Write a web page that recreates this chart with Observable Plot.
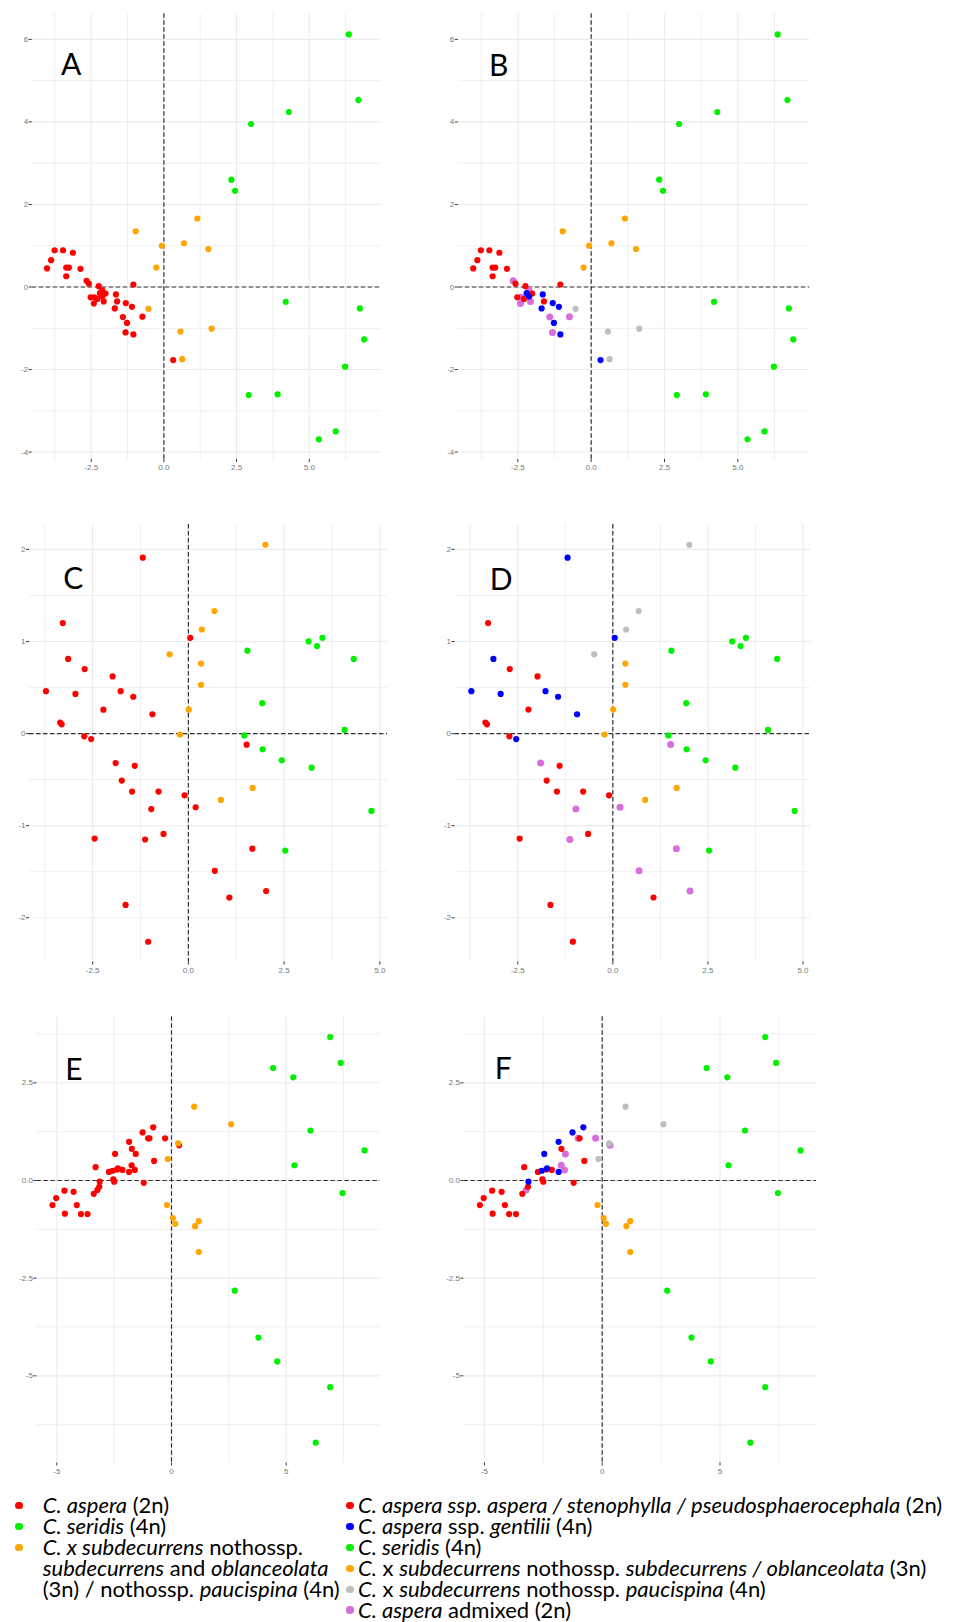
<!DOCTYPE html>
<html><head><meta charset="utf-8">
<script src="https://cdn.jsdelivr.net/npm/d3@7"></script>
<script src="https://cdn.jsdelivr.net/npm/@observablehq/plot@0.6"></script>
<style>
html,body{margin:0;padding:0;background:#fff;}
#page{position:relative;width:977px;height:1622px;overflow:hidden;font-family:Lato,'Open Sans',sans-serif;}
.lrow{position:absolute;white-space:nowrap;color:#000;line-height:20.8px;}
.ldot{position:absolute;width:7.5px;height:7.5px;border-radius:50%;}
</style></head><body><div id="page"></div>
<script>
// ---------- PCA 1 (panels A, B) ----------
const ab_aspera = [[-4.02,0.45],[-3.88,0.65],[-3.76,0.89],[-3.47,0.89],[-3.13,0.83],[-3.36,0.47],[-3.27,0.47],[-3.36,0.26],[-2.87,0.44],[-2.58,0.08],[-2.24,0.02],[-2.52,-0.25],[-2.29,-0.29],[-2.01,-0.16],[-1.61,-0.35],[-1.05,0.06]];
const ab_gentilii = [[-2.20,-0.15],[-2.12,-0.23],[-1.65,-0.18],[-1.69,-0.52],[-1.31,-0.39],[-1.10,-0.48],[-1.27,-0.87],[-1.05,-1.15],[0.32,-1.77]];
const ab_admixed = [[-2.66,0.15],[-2.39,-0.25],[-2.41,-0.40],[-2.12,-0.08],[-2.07,-0.35],[-1.41,-0.73],[-1.32,-1.10],[-0.74,-0.72]];
const ab_seridis = [[6.36,6.12],[6.69,4.53],[4.30,4.24],[3.00,3.95],[2.32,2.60],[2.45,2.33],[4.19,-0.36],[6.74,-0.52],[6.89,-1.27],[6.23,-1.93],[2.92,-2.62],[3.91,-2.60],[5.91,-3.50],[5.33,-3.69]];
const ab_subdecurrens = [[-0.97,1.35],[-0.07,1.00],[-0.26,0.47],[0.69,1.06],[1.15,1.66],[1.53,0.92]];
const ab_paucispina = [[-0.53,-0.53],[0.57,-1.08],[0.63,-1.75],[1.64,-1.01]];

// ---------- PCA 2 (panels C, D) ----------
const cd_aspera = [[-3.28,1.20],[-2.71,0.70],[-1.98,0.62],[-2.22,0.26],[-3.35,0.12],[-3.31,0.10],[-2.72,-0.03],[-1.40,-0.35],[-1.74,-0.51],[-1.47,-0.63],[-0.78,-0.63],[-0.10,-0.67],[-2.45,-1.14],[-0.65,-1.09],[1.07,-1.78],[-1.64,-1.86],[-1.05,-2.26]];
const cd_gentilii = [[-1.19,1.91],[-3.14,0.81],[-3.72,0.46],[-2.95,0.43],[-1.77,0.46],[-1.44,0.40],[-0.94,0.21],[-2.54,-0.06],[0.05,1.04]];
const cd_admixed = [[-1.90,-0.32],[-0.97,-0.82],[-1.13,-1.15],[0.19,-0.80],[1.52,-0.12],[1.67,-1.25],[0.69,-1.49],[2.03,-1.71]];
const cd_seridis = [[1.54,0.90],[3.14,1.00],[3.36,0.95],[3.50,1.04],[4.32,0.81],[1.93,0.33],[1.46,-0.02],[4.08,0.04],[1.94,-0.17],[2.44,-0.29],[3.22,-0.37],[4.78,-0.84],[2.53,-1.27]];
const cd_subdecurrens = [[0.33,0.76],[0.33,0.53],[0.01,0.26],[-0.22,-0.01],[1.68,-0.59],[0.85,-0.72]];
const cd_paucispina = [[2.01,2.05],[0.68,1.33],[0.35,1.13],[-0.49,0.86]];

// ---------- PCA 3 (panels E, F) ----------
const ef_aspera = [[-5.19,-0.63],[-5.03,-0.45],[-4.67,-0.26],[-4.65,-0.85],[-4.27,-0.29],[-4.13,-0.63],[-3.95,-0.86],[-3.66,-0.86],[-3.39,-0.34],[-3.31,0.34],[-3.15,-0.16],[-2.73,0.22],[-2.54,0.03],[-2.50,-0.03],[-2.38,0.28],[-2.14,0.27],[-1.73,0.81],[-1.21,-0.06],[-0.96,1.08],[-0.76,0.50]];
const ef_gentilii = [[-3.13,-0.03],[-2.57,0.25],[-2.34,0.31],[-1.85,0.22],[-2.46,0.68],[-1.85,0.99],[-1.26,1.23],[-0.80,1.36]];
const ef_admixed = [[-3.23,-0.24],[-1.74,0.39],[-1.60,0.27],[-1.56,0.68],[-1.02,1.08],[-0.28,1.08],[0.33,0.90]];
const ef_seridis = [[6.92,3.67],[7.38,3.01],[4.43,2.88],[5.31,2.64],[6.06,1.28],[8.42,0.77],[5.36,0.39],[7.46,-0.32],[2.76,-2.82],[3.79,-4.02],[4.61,-4.63],[6.92,-5.29],[6.29,-6.71]];
const ef_subdecurrens = [[-0.20,-0.63],[0.06,-0.96],[0.16,-1.11],[1.03,-1.17],[1.19,-1.04],[1.19,-1.83]];
const ef_paucispina = [[0.99,1.89],[2.60,1.44],[0.29,0.95],[-0.16,0.55]];

// ---------- ticks ----------
const ab_xTicks = [-2.5, 0, 2.5, 5];   const ab_xLabels = ["-2.5","0.0","2.5","5.0"];
const ab_yTicks = [-4, -2, 0, 2, 4, 6]; const ab_yLabels = ["-4","-2","0","2","4","6"];
const ab_xMinor = [-3.75,-1.25,1.25,3.75,6.25]; const ab_yMinor = [-3,-1,1,3,5];
const cd_xTicks = [-2.5, 0, 2.5, 5];   const cd_xLabels = ["-2.5","0.0","2.5","5.0"];
const cd_yTicks = [-2, -1, 0, 1, 2];   const cd_yLabels = ["-2","-1","0","1","2"];
const cd_xMinor = [-3.75,-1.25,1.25,3.75]; const cd_yMinor = [-1.5,-0.5,0.5,1.5];
const ef_xTicks = [-5, 0, 5];          const ef_xLabels = ["-5","0","5"];
const ef_yTicks = [-5, -2.5, 0, 2.5];  const ef_yLabels = ["-5","-2.5","0.0","2.5"];
const ef_xMinor = [-2.5, 2.5, 7.5];    const ef_yMinor = [-6.25,-3.75,-1.25,1.25,3.75];

// ---------- groups, colours, legend ----------
const groups = ["aspera","gentilii","admixed","seridis","subdecurrens","paucispina"];
const fineColors = {aspera:"#ff0000", gentilii:"#0000ff", admixed:"#d66fdc", seridis:"#00f000", subdecurrens:"#ffa500", paucispina:"#bebebe"};
const coarseColors = {aspera:"#ff0000", gentilii:"#ff0000", admixed:"#ff0000", seridis:"#00f000", subdecurrens:"#ffa500", paucispina:"#ffa500"};
const legendLeftColors = ["#ff0000","#00f000","#ffa500"];
const legendLeftLines = [
  "<i>C. aspera</i> (2n)",
  "<i>C. seridis</i> (4n)",
  "<i>C. x subdecurrens</i> nothossp.",
  "<i>subdecurrens</i> and <i>oblanceolata</i>",
  "(3n) / nothossp. <i>paucispina</i> (4n)"
];
const legendRightColors = ["#ff0000","#0000ff","#00f000","#ffa500","#bebebe","#d66fdc"];
const legendRightLines = [
  "<i>C. aspera ssp. aspera / stenophylla / pseudosphaerocephala</i> (2n)",
  "<i>C. aspera</i> ssp. <i>gentilii</i> (4n)",
  "<i>C. seridis</i> (4n)",
  "<i>C.</i> x <i>subdecurrens</i> nothossp. <i>subdecurrens / oblanceolata</i> (3n)",
  "<i>C.</i> x <i>subdecurrens</i> nothossp. <i>paucispina</i> (4n)",
  "<i>C. aspera</i> admixed (2n)"
];

function toRows(sets) {
  const out = [];
  groups.forEach(g => sets[g].forEach(([x, y]) => out.push({x, y, g})));
  return out;
}
const abRows = toRows({aspera:ab_aspera, gentilii:ab_gentilii, admixed:ab_admixed, seridis:ab_seridis, subdecurrens:ab_subdecurrens, paucispina:ab_paucispina});
const cdRows = toRows({aspera:cd_aspera, gentilii:cd_gentilii, admixed:cd_admixed, seridis:cd_seridis, subdecurrens:cd_subdecurrens, paucispina:cd_paucispina});
const efRows = toRows({aspera:ef_aspera, gentilii:ef_gentilii, admixed:ef_admixed, seridis:ef_seridis, subdecurrens:ef_subdecurrens, paucispina:ef_paucispina});

const page = document.getElementById("page");

function makePanel(p) {
  const mL = p.left - p.svgLeft, mT = p.top - p.svgTop, mR = 6, mB = 22;
  const gridStyle = {stroke: "#ebebeb", strokeOpacity: 1};
  const svg = Plot.plot({
    width: mL + p.W + mR, height: mT + p.H + mB,
    marginLeft: mL, marginTop: mT, marginRight: mR, marginBottom: mB,
    x: {domain: p.xDomain}, y: {domain: p.yDomain},
    color: {type: "identity"}, r: {type: "identity"},
    style: {background: "transparent", fontFamily: "'Liberation Sans', Arial, sans-serif", fontSize: "8px", overflow: "visible"},
    marks: [
      Plot.gridX(p.xMinor, {...gridStyle, strokeWidth: 0.8}),
      Plot.gridY(p.yMinor, {...gridStyle, strokeWidth: 0.8}),
      Plot.gridX(p.xTicks, {...gridStyle, strokeWidth: 1.1}),
      Plot.gridY(p.yTicks, {...gridStyle, strokeWidth: 1.1}),
      Plot.ruleX([0], {stroke: "#333", strokeWidth: 1.2, strokeDasharray: "4.5,2.5"}),
      Plot.ruleY([0], {stroke: "#333", strokeWidth: 1.2, strokeDasharray: "4.5,2.5"}),
      Plot.dot(p.rows, {x: "x", y: "y", r: d => (p.fine && d.g === "admixed") ? 3.5 : 3.1, fill: d => p.colors[d.g], stroke: null}),
      Plot.axisX(p.xTicks, {tickFormat: d => p.xLabels[p.xTicks.indexOf(d)], tickSize: 3, tickPadding: 2, stroke: "#333", fill: "#777", label: null}),
      Plot.axisY(p.yTicks, {tickFormat: d => p.yLabels[p.yTicks.indexOf(d)], tickSize: 3, tickPadding: 1, stroke: "#333", fill: "#777", label: null}),
      Plot.text([p.label], {frameAnchor: "top-left", dx: p.lx, dy: p.ly, text: d => d, fontSize: 30, fontFamily: "Lato, sans-serif", fill: "#000", textAnchor: "middle", lineAnchor: "middle"})
    ]
  });
  svg.style.position = "absolute";
  svg.style.left = p.svgLeft + "px";
  svg.style.top = p.svgTop + "px";
  page.append(svg);
}

const abCommon = {rows: abRows, xDomain: [-4.53, 7.45], yDomain: [-4.18, 6.62], xTicks: ab_xTicks, xLabels: ab_xLabels, yTicks: ab_yTicks, yLabels: ab_yLabels, xMinor: ab_xMinor, yMinor: ab_yMinor, top: 13.3, H: 445.7, svgTop: 0};
const cdCommon = {rows: cdRows, xDomain: [-4.15, 5.2], yDomain: [-2.48, 2.27], xTicks: cd_xTicks, xLabels: cd_xLabels, yTicks: cd_yTicks, yLabels: cd_yLabels, xMinor: cd_xMinor, yMinor: cd_yMinor, top: 524, H: 437.5, svgTop: 490};
const efCommon = {rows: efRows, xDomain: [-5.87, 9.10], yDomain: [-7.23, 4.19], xTicks: ef_xTicks, xLabels: ef_xLabels, yTicks: ef_yTicks, yLabels: ef_yLabels, xMinor: ef_xMinor, yMinor: ef_yMinor, top: 1016.3, H: 446.2, svgTop: 980};

makePanel({...abCommon, label: "A", colors: coarseColors, fine: false, svgLeft: 0, left: 31.7, W: 348.3, lx: 39, ly: 51.7});
makePanel({...abCommon, label: "B", colors: fineColors, fine: true, svgLeft: 420, left: 457.8, W: 351.4, lx: 40.5, ly: 52.4});
makePanel({...cdCommon, label: "C", colors: coarseColors, fine: false, svgLeft: 0, left: 29, W: 358, lx: 43.7, ly: 55.3});
makePanel({...cdCommon, label: "D", colors: fineColors, fine: true, svgLeft: 420, left: 454.5, W: 355.6, lx: 46.2, ly: 56});
makePanel({...efCommon, label: "E", colors: coarseColors, fine: false, svgLeft: 0, left: 36.4, W: 343.3, lx: 36.9, ly: 53.7});
makePanel({...efCommon, label: "F", colors: fineColors, fine: true, svgLeft: 420, left: 463.4, W: 352.7, lx: 39.3, ly: 52.7});

// ---------- legends ----------
const lh = 20.8;
const leftRowY = [1505.7, 1526.5, 1547.3, 1568.1, 1588.9];
const rightRowY = [1505.7, 1526.6, 1547.5, 1568.4, 1589.3, 1610.2];
const rowEls = [];
function addRow(html, cx, textX, y, color) {
  if (color) {
    const d = document.createElement("div");
    d.className = "ldot";
    d.style.left = (cx - 3.75) + "px"; d.style.top = (y - 3.75) + "px"; d.style.background = color;
    page.append(d);
  }
  const r = document.createElement("div");
  r.className = "lrow";
  r.innerHTML = html;
  r.style.left = textX + "px"; r.style.top = (y - lh / 2) + "px";
  page.append(r);
  rowEls.push(r);
  return r;
}
const leftEls = legendLeftLines.map((t, i) => addRow(t, 19, 42.7, leftRowY[i], i < 3 ? legendLeftColors[i] : null));
const rightEls = legendRightLines.map((t, i) => addRow(t, 350, 358, rightRowY[i], legendRightColors[i]));
// fit font size so the widest lines keep the widths seen in the reference
let fs = 21;
rowEls.forEach(r => r.style.fontSize = fs + "px");
const kRight = 600 / rightEls[0].getBoundingClientRect().width;
const kLeft = 297 / leftEls[4].getBoundingClientRect().width;
fs = fs * Math.min(kRight, kLeft);
rowEls.forEach(r => r.style.fontSize = fs.toFixed(2) + "px");
</script>
</body></html>
